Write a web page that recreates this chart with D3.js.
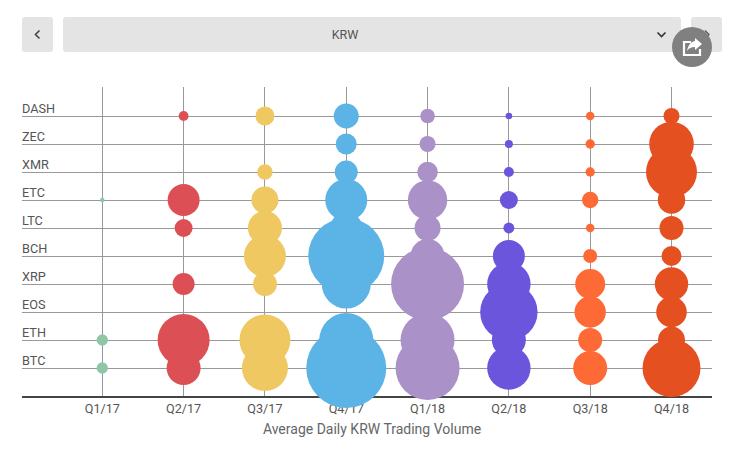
<!DOCTYPE html>
<html><head><meta charset="utf-8">
<script src="https://cdn.jsdelivr.net/npm/d3@7/dist/d3.min.js"></script>
<style>html,body{margin:0;padding:0;background:#fff}svg{display:block;font-family:Roboto,sans-serif}</style>
</head><body><svg id="c" width="746" height="451"></svg>
<script>
const coins = ["DASH","ZEC","XMR","ETC","LTC","BCH","XRP","EOS","ETH","BTC"];
const quarters = ["Q1/17","Q2/17","Q3/17","Q4/17","Q1/18","Q2/18","Q3/18","Q4/18"];
const colors = ["#8fc7a6","#dc5055","#efc862","#5bb4e5","#aa92c8","#6a55dc","#fe6a35","#e55020"];
// Relative average daily volume, one row per quarter, in the order of `coins`
const q117 = [0,0,0,5,0,0,0,0,32,32];
const q217 = [24,0,0,256,81,0,121,0,676,289];
const q317 = [90,0,59,182,290,441,144,0,650,529];
const q417 = [156,110,132,441,256,1444,600,0,729,1600];
const q118 = [53,64,106,388,169,289,1332,0,729,1024];
const q218 = [11,16,25,81,30,256,471,824,289,471];
const q318 = [18,22,22,67,18,49,225,246,144,289];
const q418 = [64,497,650,188,144,100,279,234,182,841];
const series = [q117,q217,q317,q417,q118,q218,q318,q418];
const selected = "KRW";
const axisTitle = "Average Daily KRW Trading Volume";

const svg = d3.select("#c");
const x = d3.scalePoint().domain(quarters).range([102.3,671.5]);
const y = d3.scalePoint().domain(coins).range([116,368]);
const r = d3.scaleSqrt().domain([0,1600]).range([0,40]);
const grid = "#999", ink = "#555";

// top controls
const ctl = svg.append("g");
[[22,31],[63,618],[691,31]].forEach(([bx,w])=>ctl.append("rect").attr("x",bx).attr("y",17).attr("width",w).attr("height",35).attr("rx",3).attr("fill","#e4e4e4"));
ctl.append("path").attr("d","M39.5 30.5L35.5 34.5L39.5 38.5").attr("fill","none").attr("stroke","#444").attr("stroke-width",1.6);
ctl.append("path").attr("d","M657.5 32.5L661.5 36.5L665.5 32.5").attr("fill","none").attr("stroke","#333").attr("stroke-width",1.6);
ctl.append("path").attr("d","M705 30.5L709 34.5L705 38.5").attr("fill","none").attr("stroke","#555").attr("stroke-width",1.3);
ctl.append("text").attr("x",345).attr("y",38.8).attr("text-anchor","middle").attr("font-size",12.5).attr("fill",ink).text(selected);

// gridlines, snapped to the pixel grid
svg.append("g").selectAll("line").data(quarters).join("line")
  .attr("x1",d=>Math.floor(x(d))+.5).attr("x2",d=>Math.floor(x(d))+.5).attr("y1",87).attr("y2",397).attr("stroke",grid).attr("stroke-width",1);
svg.append("g").selectAll("line").data(coins).join("line")
  .attr("x1",22).attr("x2",712).attr("y1",d=>y(d)+.5).attr("y2",d=>y(d)+.5).attr("stroke",grid).attr("stroke-width",1);

// labels
svg.append("g").selectAll("text").data(coins).join("text")
  .attr("x",22).attr("y",d=>y(d)-2.8).attr("font-size",12.7).attr("fill",ink).text(d=>d);
svg.append("line").attr("x1",22).attr("x2",712).attr("y1",397).attr("y2",397).attr("stroke","#444").attr("stroke-width",2);
svg.append("g").selectAll("text").data(quarters).join("text")
  .attr("x",d=>x(d)).attr("y",413.3).attr("text-anchor","middle").attr("font-size",12.6).attr("fill",ink).text(d=>d);
svg.append("text").attr("x",372).attr("y",433.5).attr("text-anchor","middle").attr("font-size",14).attr("fill","#666").text(axisTitle);

// bubbles
series.forEach((vals,i)=>{
  svg.append("g").attr("fill",colors[i]).selectAll("circle")
    .data(vals.map((v,j)=>({v,coin:coins[j]})).filter(d=>d.v>0)).join("circle")
    .attr("cx",x(quarters[i])).attr("cy",d=>y(d.coin)).attr("r",d=>r(d.v));
});

// share button
const sh = svg.append("g");
sh.append("circle").attr("cx",692).attr("cy",47).attr("r",20).attr("fill","#808080");
sh.append("path").attr("d","M691 42H684V55H700V49").attr("fill","none").attr("stroke","#fff").attr("stroke-width",2.2);
sh.append("path").attr("d","M695 38L702 44L695 50V47C691 47 689 48 687 51C688 46 690 42 695 41Z").attr("fill","#fff");
</script></body></html>
